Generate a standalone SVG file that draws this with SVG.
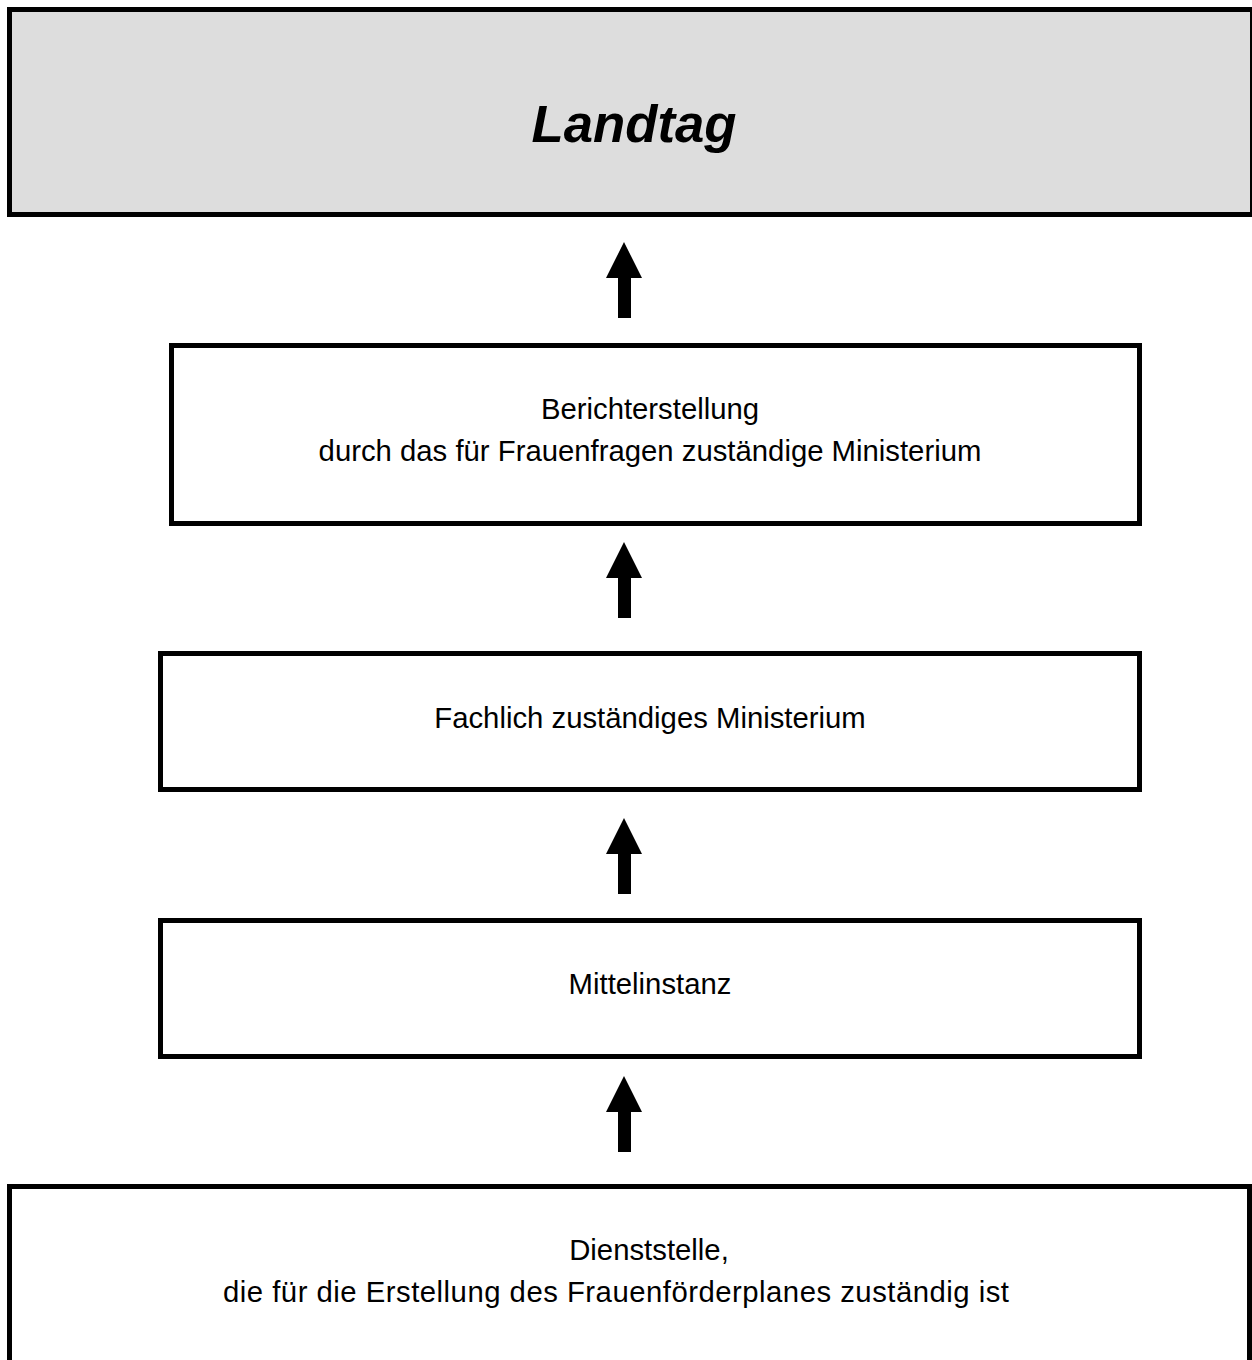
<svg xmlns="http://www.w3.org/2000/svg" width="1252" height="1360" viewBox="0 0 1252 1360">
<style>
.box{fill:#ffffff;stroke:#000000;stroke-width:5}
.top{fill:#dddddd;stroke:#000000;stroke-width:5}
.t{font-family:"Liberation Sans",Arial,sans-serif;font-size:29.3px;fill:#000000;text-anchor:middle}
.title{font-family:"Liberation Sans",Arial,sans-serif;font-size:52.7px;font-weight:bold;font-style:italic;fill:#000000;text-anchor:middle}
.arr{fill:#000000}
</style>
<rect width="1252" height="1360" fill="#ffffff"/>
<g id="landtag">
<rect class="top" x="9.5" y="9.5" width="1243" height="205"/>
<text class="title" x="634" y="142">Landtag</text>
</g>
<g id="bericht">
<rect class="box" x="171.5" y="345.5" width="968" height="178"/>
<text class="t" x="650" y="419">Berichterstellung</text>
<text class="t" x="650" y="461">durch das für Frauenfragen zuständige Ministerium</text>
</g>
<g id="fachlich">
<rect class="box" x="160.5" y="653.5" width="979" height="136"/>
<text class="t" x="650" y="728">Fachlich zuständiges Ministerium</text>
</g>
<g id="mittelinstanz">
<rect class="box" x="160.5" y="920.5" width="979" height="136"/>
<text class="t" x="650" y="994">Mittelinstanz</text>
</g>
<g id="dienststelle">
<rect class="box" x="9.5" y="1186.5" width="1240" height="200"/>
<text class="t" x="649" y="1260">Dienststelle,</text>
<text class="t" x="616" y="1302" textLength="786" lengthAdjust="spacing">die für die Erstellung des Frauenförderplanes zuständig ist</text>
</g>
<g id="connectors">
<polygon class="arr" points="624,242 642,278 631,278 631,318 618,318 618,278 606,278"/>
<polygon class="arr" points="624,542 642,578 631,578 631,618 618,618 618,578 606,578"/>
<polygon class="arr" points="624,818 642,854 631,854 631,894 618,894 618,854 606,854"/>
<polygon class="arr" points="624,1076 642,1112 631,1112 631,1152 618,1152 618,1112 606,1112"/>
</g>
</svg>
